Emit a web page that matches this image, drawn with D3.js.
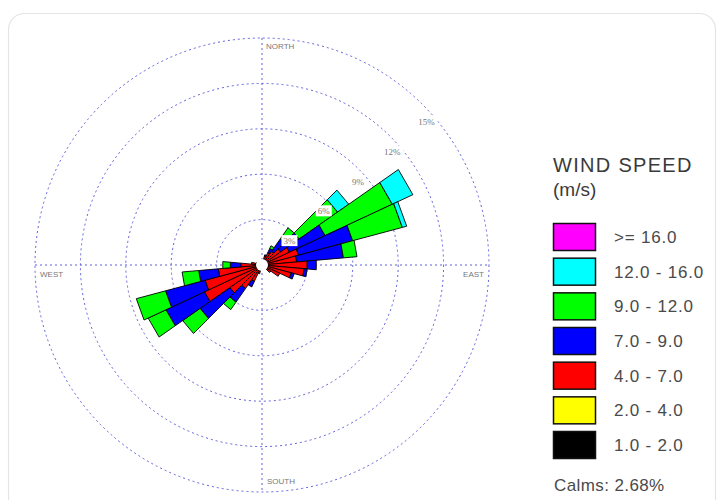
<!DOCTYPE html>
<html>
<head>
<meta charset="utf-8">
<script src="https://cdn.jsdelivr.net/npm/d3@7"></script>
<style>
  html, body { margin: 0; padding: 0; background: #ffffff; }
  svg { display: block; font-family: "Liberation Sans", Arial, sans-serif; }
</style>
</head>
<body>
<svg id="chart" width="724" height="500"></svg>
<script>
// Wind direction sectors (degrees, clockwise from north)
const directions = [0, 10, 20, 30, 40, 50, 60, 70, 80, 90, 100, 110,
  120, 130, 140, 150, 160, 170, 180, 190, 200, 210, 220, 230,
  240, 250, 260, 270, 280, 290, 300, 310, 320, 330, 340, 350];

// Frequency (%) for each speed class per sector
const spd1to2 = [0.05, 0.05, 0.1, 0.1, 0.1, 0.1, 0.15, 0.15, 0.1, 0.1, 0.1, 0.1,
  0.1, 0.05, 0.05, 0.05, 0.05, 0.05, 0.05, 0.05, 0.05, 0.1, 0.1, 0.1,
  0.15, 0.15, 0.1, 0.1, 0.05, 0.05, 0.05, 0.05, 0.05, 0.05, 0.05, 0.05];
const spd2to4 = [0.05, 0.1, 0.15, 0.2, 0.2, 0.2, 0.25, 0.25, 0.2, 0.2, 0.15, 0.15,
  0.1, 0.1, 0.1, 0.05, 0.05, 0.05, 0.05, 0.05, 0.1, 0.15, 0.2, 0.2,
  0.25, 0.25, 0.2, 0.2, 0.1, 0.1, 0.05, 0.05, 0.05, 0.05, 0.05, 0.05];
const spd4to7 = [0.15, 0.2, 0.35, 0.6, 0.8, 1.2, 1.6, 2.1, 2.0, 2.7, 2.55, 1.75,
  1.1, 0.55, 0.2, 0.1, 0.05, 0.05, 0.05, 0.1, 0.45, 0.95, 1.6, 2.3,
  3.8, 3.5, 2.6, 1.1, 0.55, 0.25, 0.1, 0.1, 0.1, 0.1, 0.1, 0.1];
const spd7to9 = [0, 0, 0.1, 0.3, 1.0, 1.5, 2.6, 3.7, 3.1, 0.6, 0.2, 0.2,
  0, 0, 0, 0, 0, 0, 0, 0, 0, 0.4, 1.1, 2.4,
  2.8, 2.7, 1.3, 0.7, 0, 0, 0, 0, 0, 0, 0, 0];
const spd9to12 = [0, 0, 0, 0.2, 0.9, 3.1, 4.9, 3.4, 0.9, 0, 0, 0,
  0, 0, 0, 0, 0, 0, 0, 0, 0, 0, 0.6, 1.4,
  1.3, 2.0, 1.1, 0.5, 0, 0, 0, 0, 0, 0, 0, 0];
const spd12to16 = [0, 0, 0, 0, 0, 0.9, 1.5, 0.3, 0, 0, 0, 0,
  0, 0, 0, 0, 0, 0, 0, 0, 0, 0, 0, 0,
  0, 0, 0, 0, 0, 0, 0, 0, 0, 0, 0, 0];
const spd16plus = [0, 0, 0, 0, 0, 0, 0, 0, 0, 0, 0, 0,
  0, 0, 0, 0, 0, 0, 0, 0, 0, 0, 0, 0,
  0, 0, 0, 0, 0, 0, 0, 0, 0, 0, 0, 0];

// Speed classes, from the centre outwards
const classLabels = ["1.0 - 2.0", "2.0 - 4.0", "4.0 - 7.0", "7.0 - 9.0",
  "9.0 - 12.0", "12.0 - 16.0", ">= 16.0"];
const classColors = ["#000000", "#ffff00", "#ff0000", "#0000ff",
  "#00ff00", "#00ffff", "#ff00ff"];
const classValues = [spd1to2, spd2to4, spd4to7, spd7to9, spd9to12, spd12to16, spd16plus];

// Ring ticks (%)
const ringTicks = [3, 6, 9, 12, 15];
const ringLabels = ["3%", "6%", "9%", "12%", "15%"];
const compassLabels = ["NORTH", "EAST", "SOUTH", "WEST"];
const calmsText = "Calms: 2.68%";

const svg = d3.select("#chart");

// Card outline
svg.append("rect")
  .attr("x", 8.5).attr("y", 13.5).attr("width", 707).attr("height", 520)
  .attr("rx", 16)
  .attr("fill", "#ffffff")
  .attr("stroke", "#e4e4e4")
  .attr("stroke-width", 1.2);

const cx = 262, cy = 265;
const r = d3.scaleLinear().domain([0, 15]).range([0, 227]);
const toRad = d => d * Math.PI / 180;

const g = svg.append("g").attr("transform", `translate(${cx},${cy})`);

const gridColor = "#6060dc";

// Rings
g.selectAll("circle.ring").data(ringTicks).join("circle")
  .attr("class", "ring")
  .attr("r", d => r(d))
  .attr("fill", "none")
  .attr("stroke", gridColor)
  .attr("stroke-width", 1)
  .attr("stroke-dasharray", "2,3");

// Axes
g.append("line").attr("x1", -r(15)).attr("x2", r(15)).attr("y1", 0).attr("y2", 0)
  .attr("stroke", gridColor).attr("stroke-width", 1).attr("stroke-dasharray", "2,3");
g.append("line").attr("x1", 0).attr("x2", 0).attr("y1", -r(15)).attr("y2", r(15))
  .attr("stroke", gridColor).attr("stroke-width", 1).attr("stroke-dasharray", "2,3");

// Petal segments
const halfWidth = 5;
const segments = [];
directions.forEach((dir, i) => {
  let cum = 0;
  classValues.forEach((vals, k) => {
    const v = vals[i];
    if (v > 0) {
      segments.push({ dir, k, from: cum, to: cum + v });
      cum += v;
    }
  });
});

function wedge(s) {
  const a0 = toRad(s.dir - halfWidth), a1 = toRad(s.dir + halfWidth);
  const p = d3.path();
  const q0 = d3.pointRadial(a0, r(s.from));
  const q1 = d3.pointRadial(a1, r(s.from));
  const q2 = d3.pointRadial(a1, r(s.to));
  const q3 = d3.pointRadial(a0, r(s.to));
  p.moveTo(q0[0], q0[1]);
  p.lineTo(q1[0], q1[1]);
  p.lineTo(q2[0], q2[1]);
  p.lineTo(q3[0], q3[1]);
  p.closePath();
  return p.toString();
}

g.selectAll("path.petal").data(segments).join("path")
  .attr("class", "petal")
  .attr("d", wedge)
  .attr("fill", d => classColors[d.k])
  .attr("stroke", "#000")
  .attr("stroke-width", 0.9)
  .attr("stroke-linejoin", "miter");

// Calm circle
g.append("circle").attr("r", 6).attr("fill", "#ffffff");

// Ring labels with white boxes
const labelAngle = toRad(49);
const rl = g.selectAll("g.rlab").data(ringTicks).join("g")
  .attr("class", "rlab")
  .attr("transform", d => {
    const p = d3.pointRadial(labelAngle, r(d) - 9);
    return `translate(${p[0]},${p[1]})`;
  });
rl.append("rect")
  .attr("x", (d, i) => -ringLabels[i].length * 3 - 2)
  .attr("y", -6)
  .attr("width", (d, i) => ringLabels[i].length * 6 + 4)
  .attr("height", 11)
  .attr("fill", "#ffffff");
rl.append("text")
  .attr("text-anchor", "middle")
  .attr("dy", 3)
  .attr("font-size", 9)
  .attr("fill", "#777")
  .attr("font-family", "Liberation Serif, serif")
  .text((d, i) => ringLabels[i]);

// Compass labels
const compassFont = { size: 8, fill: "#777" };
g.append("text").attr("x", 4).attr("y", -r(15) + 11)
  .attr("font-size", compassFont.size).attr("fill", compassFont.fill).text(compassLabels[0]);
g.append("text").attr("x", r(15) - 5).attr("y", 12).attr("text-anchor", "end")
  .attr("font-size", compassFont.size).attr("fill", compassFont.fill).text(compassLabels[1]);
g.append("text").attr("x", 5).attr("y", r(15) - 8)
  .attr("font-size", compassFont.size).attr("fill", compassFont.fill).text(compassLabels[2]);
g.append("text").attr("x", -r(15) + 5).attr("y", 12)
  .attr("font-size", compassFont.size).attr("fill", compassFont.fill).text(compassLabels[3]);

// Legend
const legend = svg.append("g").attr("transform", "translate(553,0)");
legend.append("text").attr("x", 0).attr("y", 172)
  .attr("font-size", 20).attr("fill", "#3a3a3a").attr("letter-spacing", 1.3)
  .text("WIND SPEED");
legend.append("text").attr("x", 0).attr("y", 196)
  .attr("font-size", 19).attr("fill", "#3a3a3a")
  .text("(m/s)");

const legendOrder = d3.range(classLabels.length).reverse();
const ly = d3.scalePoint().domain(legendOrder).range([223, 431]);
const items = legend.selectAll("g.item").data(legendOrder).join("g")
  .attr("class", "item")
  .attr("transform", k => `translate(0,${ly(k)})`);
items.append("rect")
  .attr("x", 0.5).attr("y", 0.5).attr("width", 42).attr("height", 27)
  .attr("fill", k => classColors[k])
  .attr("stroke", "#111").attr("stroke-width", 1.5);
items.append("text")
  .attr("x", 61).attr("y", 20)
  .attr("font-size", 17).attr("fill", "#4a4a4a").attr("letter-spacing", 0.8)
  .text(k => classLabels[k]);

legend.append("text").attr("x", 1).attr("y", 491)
  .attr("font-size", 17).attr("fill", "#4a4a4a").attr("letter-spacing", 0.4)
  .text(calmsText);
</script>
</body>
</html>
